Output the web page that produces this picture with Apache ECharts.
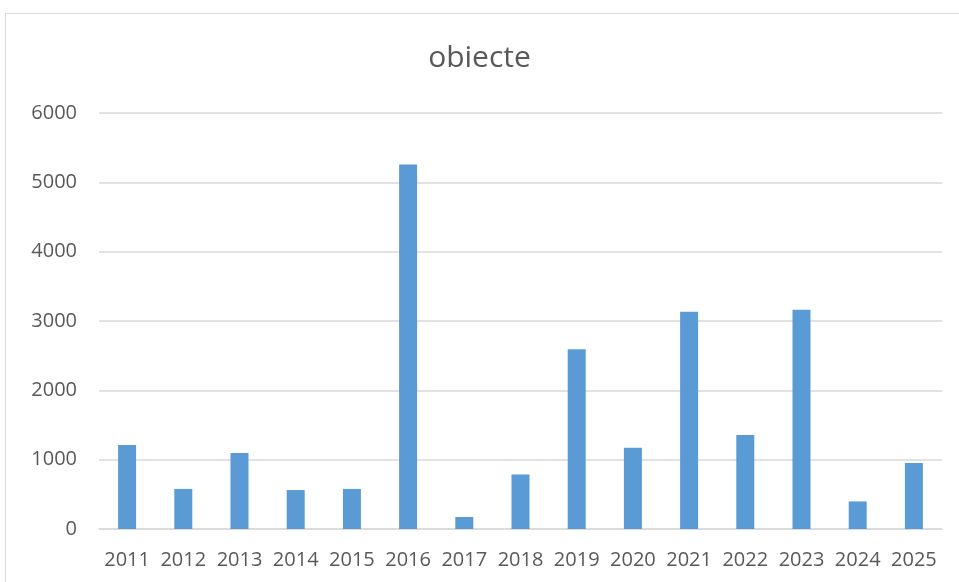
<!DOCTYPE html>
<html>
<head>
<meta charset="UTF-8">
<title>obiecte</title>
<script src="https://cdn.jsdelivr.net/npm/echarts@6/dist/echarts.min.js"></script>
<style>
  html, body { margin: 0; padding: 0; background: #fff; overflow: hidden; }
  #frame { position: absolute; left: 5px; top: 13px; width: 1000px; height: 600px; border: 1px solid #d9d9d9; }
  #main { position: absolute; left: 0; top: 0; width: 959px; height: 582px; }
</style>
</head>
<body>
<div id="frame"></div>
<div id="main"></div>
<script>
var years = ['2011', '2012', '2013', '2014', '2015', '2016', '2017', '2018',
             '2019', '2020', '2021', '2022', '2023', '2024', '2025'];
var counts = [1210, 578, 1095, 562, 578, 5258, 173, 787,
              2594, 1172, 3132, 1355, 3164, 398, 952];
var yTicks = [0, 1000, 2000, 3000, 4000, 5000, 6000];

var font = '"Open Sans", "Noto Sans", sans-serif';
var chart = echarts.init(document.getElementById('main'));
chart.setOption({
  animation: false,
  title: {
    text: 'obiecte',
    left: 'center',
    top: 38,
    textStyle: { fontFamily: font, fontSize: 30, fontWeight: 'normal', color: '#595959' }
  },
  grid: { left: 99, right: 17, top: 113, bottom: 53 },
  xAxis: {
    type: 'category',
    data: years,
    axisTick: { show: false },
    axisLine: { lineStyle: { color: '#d9d9d9', width: 1.5 } },
    axisLabel: { interval: 0, margin: 21, fontFamily: font, fontSize: 20, color: '#595959' }
  },
  yAxis: {
    type: 'value',
    min: yTicks[0],
    max: yTicks[yTicks.length - 1],
    interval: 1000,
    axisLine: { show: false },
    axisTick: { show: false },
    axisLabel: {
      margin: 22, fontFamily: font, fontSize: 20, color: '#595959',
      formatter: function (v) { return String(v); }
    },
    splitLine: { lineStyle: { color: '#d9d9d9', width: 1.5 } }
  },
  series: [{
    type: 'bar',
    data: counts,
    barWidth: 18,
    itemStyle: { color: '#5b9bd5' }
  }]
});
</script>
</body>
</html>
